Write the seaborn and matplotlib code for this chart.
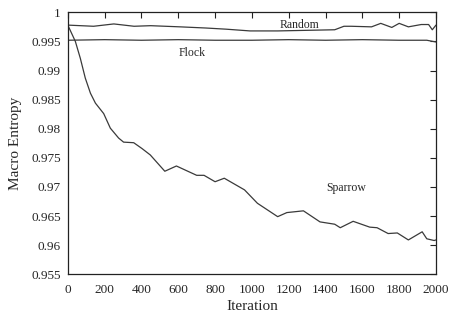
import numpy as np
import pandas as pd
import matplotlib
matplotlib.use("Agg")
import matplotlib.pyplot as plt
import seaborn as sns

# values
sparrow_iter = [0, 41, 68, 95, 123, 150, 195, 231, 276, 303, 358, 403, 448,
                527, 590, 700, 740, 800, 850, 960, 1030, 1140, 1190, 1280,
                1370, 1450, 1480, 1550, 1640, 1680, 1740, 1790, 1850, 1925,
                1950, 1990, 2000]
sparrow_val = [0.9978, 0.9950, 0.9921, 0.9887, 0.9861, 0.9844, 0.9826, 0.9801,
               0.9784, 0.9777, 0.9776, 0.9766, 0.9755, 0.9727, 0.9736, 0.9720,
               0.9720, 0.9709, 0.9715, 0.9695, 0.9672, 0.9649, 0.9656, 0.9659,
               0.9640, 0.9636, 0.9630, 0.9641, 0.9631, 0.9630, 0.9620, 0.9621,
               0.9609, 0.9623, 0.9611, 0.9608, 0.9609]

random_iter = [0, 140, 250, 360, 450, 610, 750, 860, 990, 1140, 1450, 1500,
               1540, 1650, 1700, 1760, 1800, 1850, 1920, 1960, 1980, 2000]
random_val = [0.9978, 0.9976, 0.9980, 0.9976, 0.9977, 0.9975, 0.9973, 0.9971,
              0.9968, 0.9968, 0.9970, 0.9976, 0.9976, 0.9975, 0.9981, 0.9974,
              0.9981, 0.9975, 0.9979, 0.9979, 0.9970, 0.9978]

flock_iter = [0, 200, 400, 600, 800, 1000, 1200, 1400, 1600, 1800, 1950, 2000]
flock_val = [0.9952, 0.9953, 0.9952, 0.9953, 0.9952, 0.9952, 0.9953, 0.9952,
             0.9953, 0.9952, 0.9952, 0.9949]

x_ticks = list(range(0, 2001, 200))
y_ticks = [0.955, 0.96, 0.965, 0.97, 0.975, 0.98, 0.985, 0.99, 0.995, 1.0]
y_tick_labels = ["0.955", "0.96", "0.965", "0.97", "0.975", "0.98", "0.985",
                 "0.99", "0.995", "1"]

df = pd.concat([
    pd.DataFrame({"Iteration": sparrow_iter, "Entropy": sparrow_val, "run": "Sparrow"}),
    pd.DataFrame({"Iteration": random_iter, "Entropy": random_val, "run": "Random"}),
    pd.DataFrame({"Iteration": flock_iter, "Entropy": flock_val, "run": "Flock"}),
])

sns.set_style("white")
plt.rcParams["font.family"] = ["Liberation Serif", "DejaVu Serif"]
plt.rcParams["xtick.direction"] = "in"
plt.rcParams["ytick.direction"] = "in"

fig = plt.figure(figsize=(4.49, 3.21), dpi=100)
ax = fig.add_axes([0.151, 0.1455, 0.820, 0.8162])

line_color = "#3a3a3a"
sns.lineplot(data=df, x="Iteration", y="Entropy", hue="run",
             palette={"Sparrow": line_color, "Random": line_color, "Flock": line_color},
             linewidth=0.9, legend=False, sort=False, estimator=None, ax=ax)

ax.set_xlim(0, 2000)
ax.set_ylim(0.955, 1.0)
ax.set_xticks(x_ticks)
ax.set_xticklabels([str(t) for t in x_ticks])
ax.set_yticks(y_ticks)
ax.set_yticklabels(y_tick_labels)
ax.tick_params(axis="both", which="both", labelsize=9.5, length=4, width=0.8,
               top=True, right=True, color="#222222")
ax.tick_params(axis="x", pad=7)
ax.tick_params(axis="y", pad=5)
for s in ax.spines.values():
    s.set_color("#222222")
    s.set_linewidth(0.9)

ax.set_xlabel("Iteration", fontsize=11, labelpad=3)
ax.set_ylabel("Macro Entropy", fontsize=11, labelpad=7)

ax.text(1260, 0.9978, "Random", fontsize=8.5, ha="center", va="center")
ax.text(674, 0.9930, "Flock", fontsize=8.5, ha="center", va="center")
ax.text(1514, 0.9699, "Sparrow", fontsize=8.5, ha="center", va="center")

fig.savefig("out.png", dpi=100)
